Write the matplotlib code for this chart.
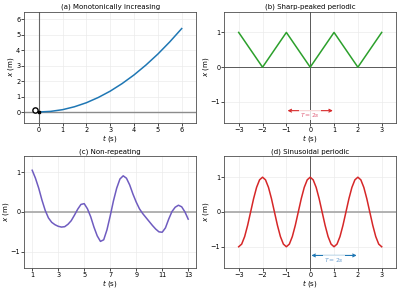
import matplotlib
matplotlib.use("Agg")
import matplotlib.pyplot as plt

# (a) monotonically increasing
t_a = [0, 0.5, 1, 1.5, 2, 2.5, 3, 3.5, 4, 4.5, 5, 5.5, 6]
x_a = [0, 0.04, 0.15, 0.34, 0.6, 0.94, 1.35, 1.84, 2.4, 3.04, 3.75, 4.54, 5.4]

# (b) triangle wave vertices
t_b = [-3, -2, -1, 0, 1, 2, 3]
x_b = [1, 0, 1, 0, 1, 0, 1]

# (c) non-repeating, read every 0.25 s
t_c = [1 + 0.25 * i for i in range(49)]
x_c = [1.05, 0.85, 0.60, 0.30, 0.04, -0.15, -0.26, -0.32, -0.36, -0.38,
       -0.37, -0.31, -0.22, -0.08, 0.07, 0.19, 0.21, 0.08, -0.12, -0.38,
       -0.60, -0.74, -0.70, -0.45, -0.10, 0.28, 0.60, 0.83, 0.91, 0.85,
       0.68, 0.45, 0.25, 0.08, -0.04, -0.14, -0.24, -0.34, -0.43, -0.50,
       -0.51, -0.40, -0.18, 0.01, 0.12, 0.17, 0.13, 0.0, -0.18]

# (d) sinusoid, read every 0.125 s
t_d = [-3 + 0.125 * i for i in range(49)]
half = [-1, -0.924, -0.707, -0.383, 0, 0.383, 0.707, 0.924,
        1, 0.924, 0.707, 0.383, 0, -0.383, -0.707, -0.924]
x_d = half * 3 + [-1]

fs_title = 5.0
fs_tick = 4.7

fig = plt.figure(figsize=(4, 2.89), dpi=100)
ax_a = fig.add_axes([0.061, 0.575, 0.429, 0.385])
ax_b = fig.add_axes([0.561, 0.575, 0.429, 0.385])
ax_c = fig.add_axes([0.061, 0.074, 0.429, 0.385])
ax_d = fig.add_axes([0.561, 0.074, 0.429, 0.385])

for ax in [ax_a, ax_b, ax_c, ax_d]:
    ax.grid(True, color='0.92', lw=0.5)
    ax.set_axisbelow(True)
    ax.tick_params(labelsize=fs_tick, length=2, width=0.5, pad=1)
    for s in ax.spines.values():
        s.set_linewidth(0.6)
        s.set_color('0.3')
    ax.set_xlabel('$t$ (s)', fontsize=fs_tick + 0.4, labelpad=0)
    ax.set_ylabel('$x$ (m)', fontsize=fs_tick + 0.4, labelpad=0)

# (a)
ax_a.axhline(0, color='0.55', lw=1.0, zorder=1)
ax_a.axvline(0, color='0.4', lw=0.8, zorder=1)
ax_a.plot(t_a, x_a, color='#1f77b4', lw=1.1)
ax_a.plot([-0.15], [0.1], 'o', mfc='white', mec='black', ms=3.8, mew=1.0)
ax_a.plot([0], [0], 's', color='black', ms=2)
ax_a.set_xlim(-0.6, 6.6)
ax_a.set_ylim(-0.7, 6.5)
ax_a.set_xticks([0, 1, 2, 3, 4, 5, 6])
ax_a.set_yticks([0, 1, 2, 3, 4, 5, 6])
ax_a.set_title('(a) Monotonically increasing', fontsize=fs_title, pad=2)

# (b)
ax_b.axhline(0, color='0.35', lw=0.7, zorder=1)
ax_b.axvline(0, color='0.35', lw=0.7, zorder=1)
ax_b.plot(t_b, x_b, color='#2ca02c', lw=1.1)
ax_b.annotate('', xy=(-0.95, -1.25), xytext=(0.95, -1.25),
              arrowprops=dict(arrowstyle='<->', color='#d62728', lw=0.8,
                              mutation_scale=5, shrinkA=0, shrinkB=0))
ax_b.text(0, -1.38, '$T=2s$', fontsize=4.3, color='#e0607a', ha='center', va='center',
          bbox=dict(boxstyle='square,pad=0.15', fc='white', ec='none', alpha=0.8))
ax_b.set_xlim(-3.6, 3.6)
ax_b.set_ylim(-1.6, 1.6)
ax_b.set_xticks([-3, -2, -1, 0, 1, 2, 3])
ax_b.set_yticks([-1, 0, 1])
ax_b.set_title('(b) Sharp-peaked periodic', fontsize=fs_title, pad=2)

# (c)
ax_c.axhline(0, color='0.65', lw=1.2, zorder=1)
ax_c.plot(t_c, x_c, color='#6f5cc0', lw=1.1)
ax_c.set_xlim(0.4, 13.6)
ax_c.set_ylim(-1.4, 1.4)
ax_c.set_xticks([1, 3, 5, 7, 9, 11, 13])
ax_c.set_yticks([-1, 0, 1])
ax_c.set_title('(c) Non-repeating', fontsize=fs_title, pad=2)

# (d)
ax_d.axhline(0, color='0.65', lw=1.2, zorder=1)
ax_d.axvline(0, color='0.35', lw=0.7, zorder=1)
ax_d.plot(t_d, x_d, color='#d62728', lw=1.1)
ax_d.annotate('', xy=(0.05, -1.25), xytext=(1.95, -1.25),
              arrowprops=dict(arrowstyle='<->', color='#1f77b4', lw=0.8,
                              mutation_scale=5, shrinkA=0, shrinkB=0))
ax_d.text(1, -1.38, '$T=2s$', fontsize=4.3, color='#6a9fd0', ha='center', va='center',
          bbox=dict(boxstyle='square,pad=0.15', fc='white', ec='none', alpha=0.8))
ax_d.set_xlim(-3.6, 3.6)
ax_d.set_ylim(-1.6, 1.6)
ax_d.set_xticks([-3, -2, -1, 0, 1, 2, 3])
ax_d.set_yticks([-1, 0, 1])
ax_d.set_title('(d) Sinusoidal periodic', fontsize=fs_title, pad=2)

fig.savefig('out.png', dpi=100)
